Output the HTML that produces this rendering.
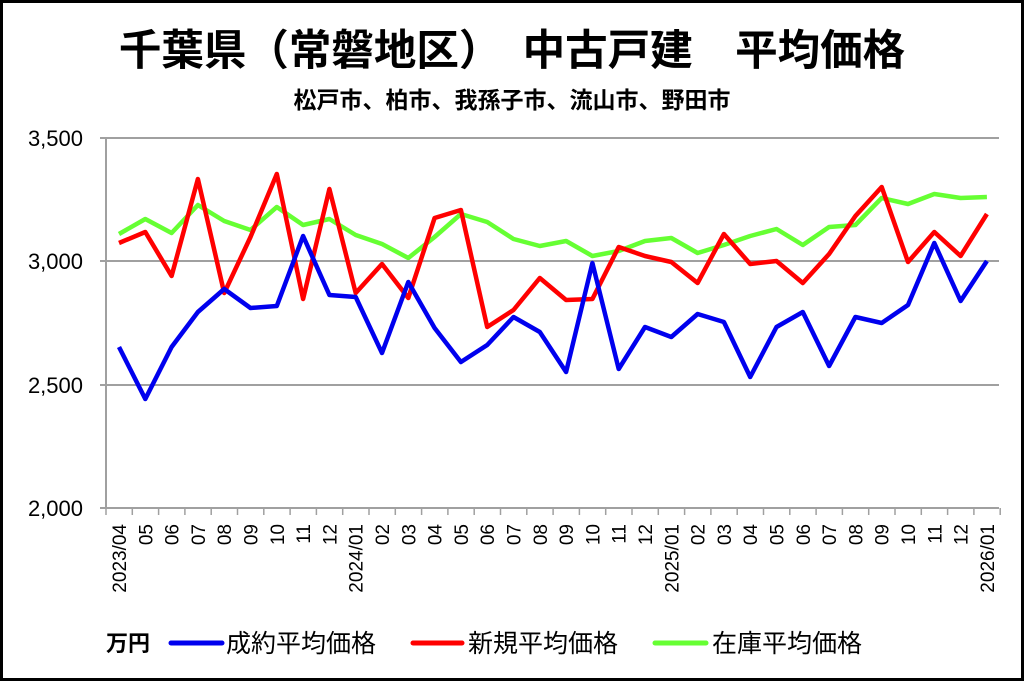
<!DOCTYPE html>
<html><head><meta charset="utf-8"><style>
body{margin:0;background:#fff;}
svg text{font-family:"Liberation Sans","Noto Sans CJK JP",sans-serif;}
</style></head><body>
<svg width="1024" height="681" viewBox="0 0 1024 681" xmlns="http://www.w3.org/2000/svg">
<rect x="1.5" y="1.5" width="1021" height="678" fill="#fff" stroke="#000" stroke-width="3"/>
<text x="512" y="65" text-anchor="middle" font-size="42.5" font-weight="bold">千葉県（常磐地区）　中古戸建　平均価格</text>
<text x="512" y="108" text-anchor="middle" font-size="23" font-weight="bold">松戸市、柏市、我孫子市、流山市、野田市</text>
<g stroke="#a0a0a0" stroke-width="2">
<line x1="100" y1="138" x2="999" y2="138"/>
<line x1="100" y1="261" x2="999" y2="261"/>
<line x1="100" y1="385" x2="999" y2="385"/>
<line x1="100" y1="508" x2="999" y2="508"/>
<line x1="106" y1="138" x2="106" y2="508"/>
</g>
<g id="ticks" stroke="#a0a0a0" stroke-width="1.5"></g>
<g font-size="22" text-anchor="end">
<text x="83" y="146">3,500</text>
<text x="83" y="269">3,000</text>
<text x="83" y="393">2,500</text>
<text x="83" y="516">2,000</text>
</g>
<g id="xl" font-size="19"></g>
<g fill="none" stroke-width="4.5" stroke-linejoin="round">
<polyline id="g" stroke="#66ff33"/>
<polyline id="r" stroke="#ff0000"/>
<polyline id="b" stroke="#0000ee"/>
</g>
<text x="106" y="651" font-size="22" font-weight="bold">万円</text>
<line x1="171" y1="643" x2="222" y2="643" stroke="#0000ee" stroke-width="5" stroke-linecap="round"/>
<text x="226" y="652" font-size="25">成約平均価格</text>
<line x1="413" y1="643" x2="462" y2="643" stroke="#ff0000" stroke-width="5" stroke-linecap="round"/>
<text x="468" y="652" font-size="25">新規平均価格</text>
<line x1="655" y1="643" x2="706" y2="643" stroke="#66ff33" stroke-width="5" stroke-linecap="round"/>
<text x="712" y="652" font-size="25">在庫平均価格</text>
</svg>
<script>
var B=[347,399,347,312,289,308,306,236,295,297,353,282,328,362,345,317,332,372,263,369,327,337,314,322,377,327,312,366,317,323,305,243,301,261];
var R=[243,232,276,179,293,237,174,299,189,293,264,298,218,210,327,310,278,300,299,247,256,262,283,234,264,261,283,254,216,187,262,232,256,214];
var G=[234,219,233,205,221,230,207,225,219,235,244,258,237,214,222,239,246,241,256,251,241,238,253,245,236,229,245,227,225,198,204,194,198,197];
function pts(a){return a.map(function(y,i){return (119+26.3*i).toFixed(1)+','+y}).join(' ');}
document.getElementById('b').setAttribute('points',pts(B));
document.getElementById('r').setAttribute('points',pts(R));
document.getElementById('g').setAttribute('points',pts(G));
var ns='http://www.w3.org/2000/svg',t=document.getElementById('ticks'),xl=document.getElementById('xl');
for(var k=0;k<=34;k++){var x=106+26.3*k;var l=document.createElementNS(ns,'line');l.setAttribute('x1',x);l.setAttribute('x2',x);l.setAttribute('y1',508);l.setAttribute('y2',515);t.appendChild(l);}
var m=4,y=2023;
for(var i=0;i<34;i++){var s=(m<10?'0':'')+m;if(i==0||m==1)s=y+'/'+s;var x=119+26.3*i+7;
var e=document.createElementNS(ns,'text');e.setAttribute('transform','translate('+x+',524) rotate(-90)');e.setAttribute('text-anchor','end');e.textContent=s;xl.appendChild(e);
m++;if(m>12){m=1;y++;}}
</script>
</body></html>
